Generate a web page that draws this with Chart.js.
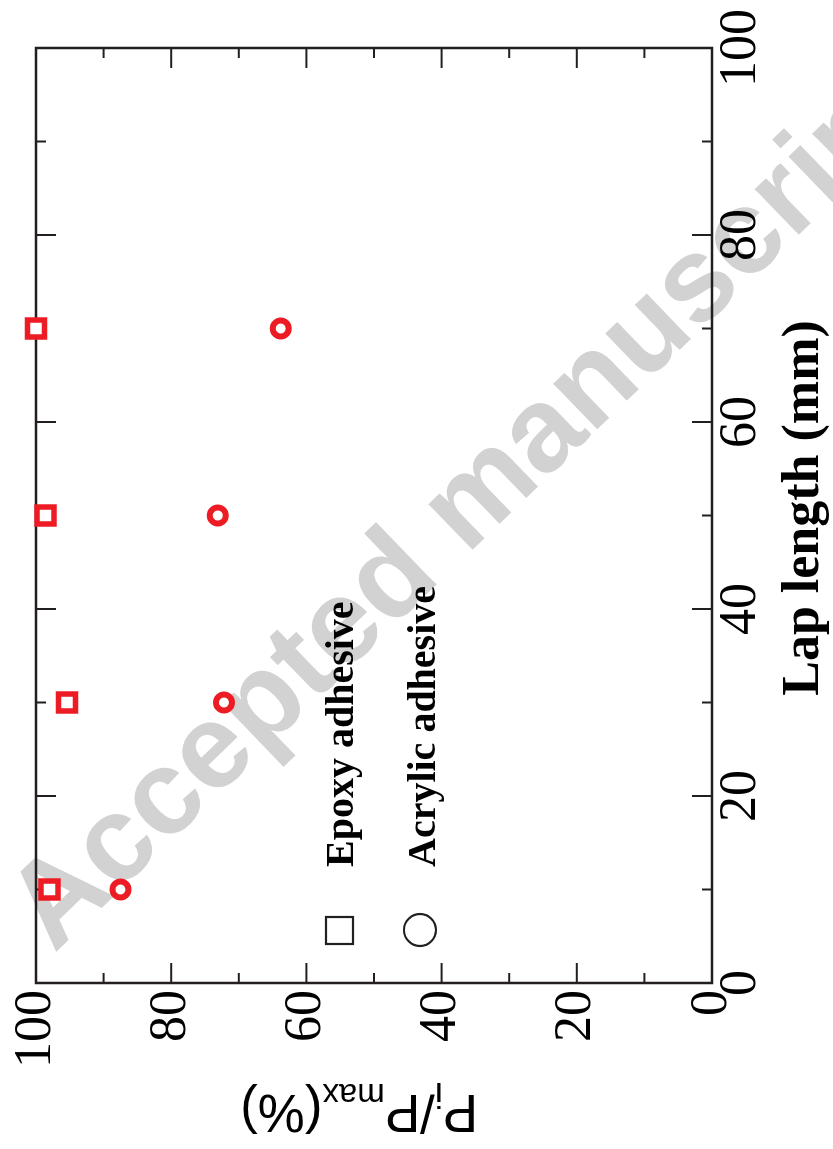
<!DOCTYPE html>
<html>
<head>
<meta charset="utf-8">
<script src="https://cdn.jsdelivr.net/npm/chart.js@4/dist/chart.umd.min.js"></script>
<style>
  html, body { margin: 0; padding: 0; background: #fff; overflow: hidden; width: 833px; height: 1149px; }
  /* the figure is laid out landscape and turned a quarter turn counter-clockwise */
  #wrap { position: absolute; left: 0; top: 0; width: 1149px; height: 833px;
          transform-origin: 0 0; transform: translate(0, 1149px) rotate(-90deg); }
  canvas { display: block; }
</style>
</head>
<body>
<div id="wrap"><canvas id="c" width="1149" height="833"></canvas></div>
<script>
// Lap length (mm) of the single-lap joints
const lapLength = [10, 30, 50, 70];
// P_i / P_max (%) for each adhesive
const epoxyRatio = [98.0, 95.4, 98.6, 100.0];
const acrylicRatio = [87.5, 72.2, 73.1, 63.8];
// labelled tick values
const xTickLabels = [0, 20, 40, 60, 80, 100];
const yTickLabels = [0, 20, 40, 60, 80, 100];
const seriesNames = ['Epoxy adhesive', 'Acrylic adhesive'];
const xTitle = 'Lap length (mm)';
const watermarkText = 'Accepted manuscript';

const RED = '#ed1c24';
const INK = '#231f20';
const SERIF = '"Liberation Serif", "Times New Roman", serif';
const SANS = '"Liberation Sans", Arial, sans-serif';

const toPoints = (xs, ys) => xs.map((v, i) => ({ x: v, y: ys[i] }));

// faint diagonal stamp under everything
const stampPlugin = {
  id: 'stamp',
  beforeDraw(chart) {
    const ctx = chart.ctx;
    ctx.save();
    ctx.translate(195, 54);
    ctx.rotate(46 * Math.PI / 180);
    ctx.font = 'bold 120px ' + SANS;
    ctx.fillStyle = '#d2d2d2';
    ctx.textBaseline = 'alphabetic';
    ctx.textAlign = 'left';
    ctx.fillText(watermarkText, 0, 0);
    ctx.restore();
  }
};

// closed frame with inward ticks on all four sides
const framePlugin = {
  id: 'frame',
  beforeDatasetsDraw(chart) {
    const { ctx, chartArea: { left, right, top, bottom }, scales: { x, y } } = chart;
    ctx.save();
    ctx.strokeStyle = INK;
    ctx.lineWidth = 2.5;
    ctx.strokeRect(left, top, right - left, bottom - top);
    ctx.lineWidth = 2;
    const seg = (x1, y1, x2, y2) => { ctx.beginPath(); ctx.moveTo(x1, y1); ctx.lineTo(x2, y2); ctx.stroke(); };
    x.ticks.forEach(t => {
      const px = x.getPixelForValue(t.value);
      const len = xTickLabels.includes(t.value) ? 20 : 10;
      seg(px, bottom, px, bottom - len);
      seg(px, top, px, top + len);
    });
    y.ticks.forEach(t => {
      const py = y.getPixelForValue(t.value);
      const len = yTickLabels.includes(t.value) ? 20 : 10;
      seg(left, py, left + len, py);
      seg(right, py, right - len, py);
    });
    ctx.restore();
  }
};

// axis titles and the key
const textPlugin = {
  id: 'texts',
  afterDraw(chart) {
    const ctx = chart.ctx;
    ctx.save();
    ctx.fillStyle = '#000';
    ctx.textBaseline = 'alphabetic';

    // horizontal axis title
    ctx.font = 'bold 52px ' + SERIF;
    ctx.textAlign = 'center';
    ctx.fillText(xTitle, 641, 818);

    // vertical axis title: P_i/P_max(%)
    ctx.save();
    ctx.translate(54, 478);
    ctx.rotate(-Math.PI / 2);
    ctx.textAlign = 'left';
    let cx = 0;
    const part = (txt, size, dy) => {
      ctx.font = size + 'px ' + SANS;
      ctx.fillText(txt, cx, dy);
      cx += ctx.measureText(txt).width;
    };
    part('P', 53, 0);
    part('i', 35, 12);
    part('/P', 53, 0);
    part('max', 33, 11);
    part('(%)', 53, 0);
    ctx.restore();

    // key
    ctx.font = 'bold 40px ' + SERIF;
    ctx.textAlign = 'left';
    ctx.fillText(seriesNames[0], 282, 353);
    ctx.fillText(seriesNames[1], 282, 435);
    ctx.strokeStyle = INK;
    ctx.lineWidth = 2.2;
    ctx.strokeRect(205, 326, 27, 27);
    ctx.beginPath();
    ctx.arc(219, 420, 16, 0, Math.PI * 2);
    ctx.stroke();
    ctx.restore();
  }
};

const tickFont = { family: SERIF, size: 52, lineHeight: 1 };

new Chart(document.getElementById('c'), {
  type: 'scatter',
  data: {
    datasets: [
      {
        label: seriesNames[0],
        data: toPoints(lapLength, epoxyRatio),
        pointStyle: 'rect',
        pointRadius: 12,
        pointHoverRadius: 12,
        pointBorderWidth: 5.5,
        borderColor: RED,
        backgroundColor: '#fff',
        clip: false
      },
      {
        label: seriesNames[1],
        data: toPoints(lapLength, acrylicRatio),
        pointStyle: 'circle',
        pointRadius: 8,
        pointHoverRadius: 8,
        pointBorderWidth: 6,
        borderColor: RED,
        backgroundColor: '#fff',
        clip: false
      }
    ]
  },
  options: {
    responsive: false,
    animation: false,
    devicePixelRatio: 1,
    events: [],
    layout: { padding: { left: 0, right: 48, top: 36, bottom: 0 } },
    plugins: { legend: { display: false }, tooltip: { enabled: false } },
    scales: {
      x: {
        type: 'linear', position: 'bottom', min: 0, max: 100,
        border: { display: false },
        grid: { display: false, drawTicks: false, tickLength: 0 },
        ticks: {
          stepSize: 10, autoSkip: false, maxRotation: 0, minRotation: 0,
          padding: 3, color: '#000', font: tickFont,
          callback: v => xTickLabels.includes(v) ? String(v) : ''
        },
        afterFit: s => { s.height = 121; }
      },
      y: {
        type: 'linear', position: 'left', min: 0, max: 100,
        border: { display: false },
        grid: { display: false, drawTicks: false, tickLength: 0 },
        ticks: {
          stepSize: 10, autoSkip: false,
          padding: 7, color: '#000', font: tickFont,
          callback: v => yTickLabels.includes(v) ? String(v) : ''
        },
        afterFit: s => { s.width = 166; }
      }
    }
  },
  plugins: [stampPlugin, framePlugin, textPlugin]
});
</script>
</body>
</html>
